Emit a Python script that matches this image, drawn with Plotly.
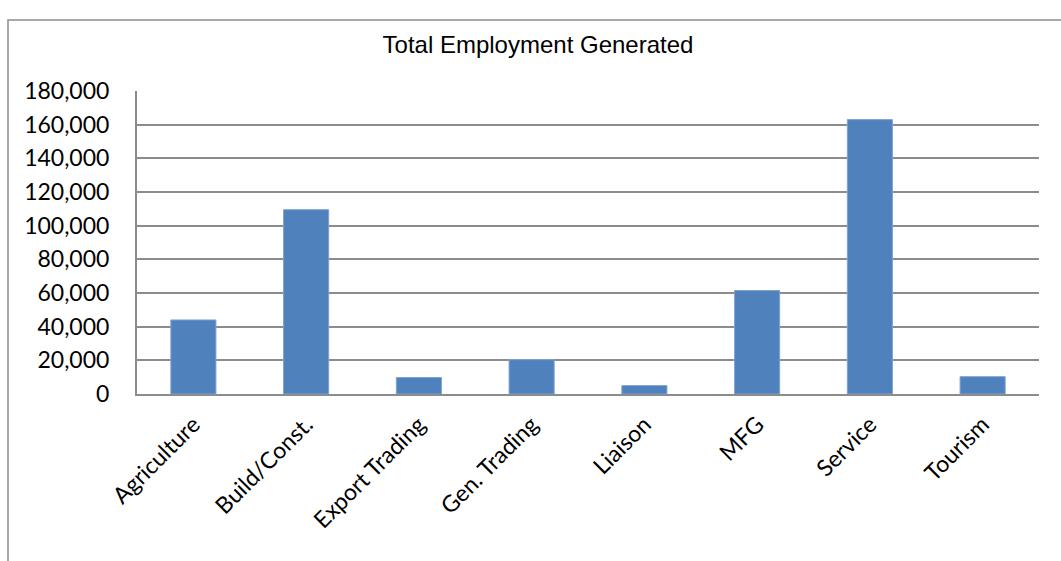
import plotly.graph_objects as go

categories = ["Agriculture", "Build/Const.", "Export Trading", "Gen. Trading",
              "Liaison", "MFG", "Service", "Tourism"]
employment = [44000, 109500, 9800, 20400, 5000, 61500, 163000, 10300]
y_ticks = [0, 20000, 40000, 60000, 80000, 100000, 120000, 140000, 160000, 180000]
y_tick_labels = ["0", "20,000", "40,000", "60,000", "80,000", "100,000",
                 "120,000", "140,000", "160,000", "180,000"]

fig = go.Figure(go.Bar(
    x=categories, y=employment,
    marker=dict(color="#4F81BD", line=dict(color="#7FA3D0", width=1)),
    width=0.4,
))

fig.update_layout(
    width=1061, height=561,
    margin=dict(l=137, r=22, t=91, b=167, autoexpand=False),
    paper_bgcolor="white", plot_bgcolor="white",
    showlegend=False,
    title=dict(text="Total Employment Generated", x=538 / 1061, xanchor="center",
               y=1 - 45 / 561, yanchor="middle",
               font=dict(family="Liberation Sans, Arial", size=24, color="black")),
    font=dict(family="Lato, Open Sans, sans-serif", size=23, color="black"),
    shapes=[dict(type="rect", xref="paper", yref="paper",
                 x0=-129 / 902, x1=1.1, y0=-0.7, y1=1 + 71 / 303,
                 line=dict(color="#8c8c8c", width=1.5), layer="below")],
)

fig.update_xaxes(
    tickangle=-45, showline=True, linecolor="#8c8c8c", linewidth=2,
    showgrid=False, ticks="", tickfont=dict(size=23), automargin=False,
    ticklabelstandoff=6,
)
fig.update_yaxes(
    range=[0, 180000], tickvals=y_ticks, ticktext=y_tick_labels,
    showgrid=True, gridcolor="#8c8c8c", gridwidth=2,
    showline=True, linecolor="#8c8c8c", linewidth=2,
    ticks="", ticklabelstandoff=21, automargin=False,
    zeroline=False, tickfont=dict(size=23),
)

fig.write_html("out.html")
